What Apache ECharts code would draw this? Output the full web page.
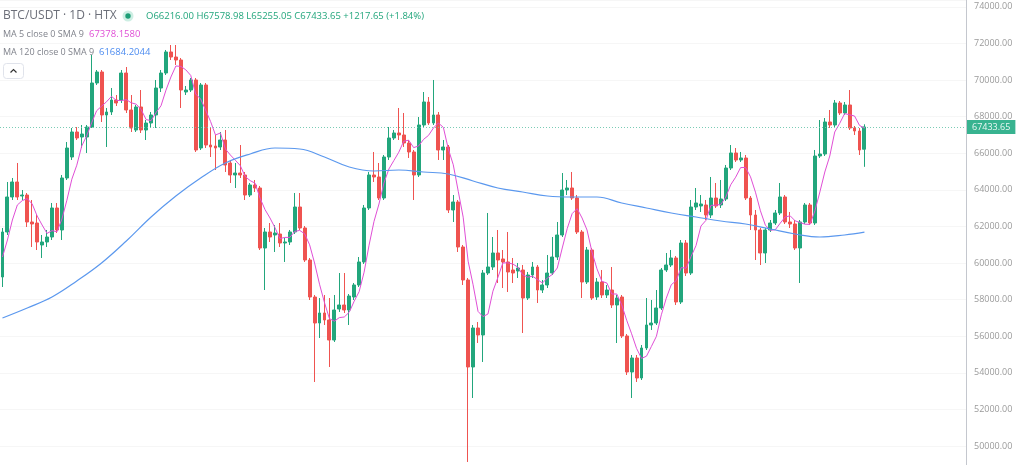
<!DOCTYPE html>
<html>
<head>
<meta charset="utf-8">
<script src="https://cdn.jsdelivr.net/npm/echarts@6/dist/echarts.min.js"></script>
<style>
  html, body { margin: 0; padding: 0; background: #ffffff; }
  #chart { width: 1024px; height: 465px; }
</style>
</head>
<body>
<div id="chart"></div>
<script>
// ---- data (BTC/USDT daily, HTX) ----
const opens = [
59235,61694,63606,64426,63661,63715,62240,62185,60983,61147,
61420,63005,61803,64644,65791,67158,66884,66884,67431,69835,
70436,68087,68251,68906,68906,70381,68360,67267,68524,67267,
67649,68087,69562,70381,71529,71255,71092,69343,69452,69999,
66283,69726,66447,66392,66338,66720,65464,64808,64917,64808,
63715,64262,64098,60819,61694,61530,61584,61092,61147,61694,
63059,61912,60164,58141,56721,57268,56885,55792,57486,57705,
57432,58141,58798,60055,63005,64808,64699,63551,65791,66830,
67103,66994,66556,66065,64808,67540,68797,67649,68087,66174,
66338,62896,63333,60874,59071,54317,56448,56066,59453,59781,
60546,60219,60055,59617,59562,59617,58087,59344,59781,58524,
58798,59453,60327,61530,63988,64098,63551,61694,58962,60710,
58141,58962,58251,58524,57705,58141,56011,54044,54809,53716,
55355,56612,56721,57541,59617,59891,60273,57869,61092,59453,
63059,63114,63169,62622,63551,63169,63497,65190,66010,65628,
65737,63551,62622,61803,60546,61803,62185,62732,63606,62240,
62131,60819,62240,63169,62185,65846,65955,67704,67540,68742,
68196,68633,67376,67212,66216];
const closes = [
61694,63606,64426,63606,63715,62240,62131,61147,61147,61420,
63005,61803,64644,66283,67158,66830,67048,67431,69835,70436,
68087,68251,68906,68742,70381,68360,67376,68524,67267,67649,
68087,69562,70381,71529,71255,71092,69452,69452,69999,66174,
69726,66447,66338,66283,66720,65355,64808,64917,64808,63715,
64262,64098,60819,61694,61420,61639,61092,61147,61694,63059,
61912,60164,58141,56721,57268,56885,55792,57432,57705,57432,
58196,58798,60055,63005,64808,64699,63551,65791,66830,67103,
66994,66556,66065,64808,67540,68797,67649,68087,66174,66338,
62896,63333,60874,59071,54317,56448,56066,59453,59781,60546,
60164,60055,59508,59453,59726,58087,59344,59781,58524,58798,
59453,60327,61530,63988,64098,63551,61694,58962,60710,58087,
58962,58251,58524,57705,58087,56011,54044,54809,53716,55355,
56612,56721,57541,59617,59891,60273,57869,61092,59453,63059,
63278,63223,62622,63551,63114,63497,65190,66010,65628,65737,
63551,62622,61803,60546,61803,62185,62732,63606,62240,62131,
60819,62240,63169,62185,65846,65955,67704,67540,68742,68196,
68633,67376,67212,66174,67433.65];
const lows = [
58688,61530,63442,63442,63442,61967,60874,60710,60273,60874,
61256,61639,61256,64535,65628,66720,66283,66010,67376,69726,
67704,66338,68087,68578,68742,68196,67158,67158,67103,66720,
67376,67376,69343,70272,71092,70819,68469,69179,69343,66065,
66174,66283,65791,65081,66174,64972,64371,64098,64644,63442,
63606,63879,60710,58524,61147,60601,60874,60055,60983,61584,
61803,60055,57978,53498,55902,56612,54317,55683,57323,57268,
56612,57978,58688,59945,62896,64426,63442,63442,65628,66720,
66720,66338,65737,63442,64699,67431,67540,67540,65628,65628,
62732,62240,60601,58798,49127,52623,55628,54591,59344,59617,
58907,58633,58415,58907,59180,56175,57978,59180,57814,58360,
58633,59344,60164,61420,63715,63442,61584,58087,58852,57978,
57978,58087,58087,57541,55628,55902,53880,52623,53498,53607,
55246,56339,56612,57432,59508,59781,57705,57759,59289,59344,
62896,62787,62349,62458,63005,63005,63387,65081,65519,65519,
63442,61803,60164,59891,60000,61694,62076,62622,62131,61912,
60710,58907,62131,62076,62076,65737,65846,67376,67431,68087,
68087,67267,66994,65901,65255.05];
const highs = [
61912,64426,64644,65464,63988,63824,63442,62622,61530,61803,
63278,63278,64808,66611,67376,67431,67540,67540,71365,70545,
70545,68469,69562,69179,70545,70709,69179,68633,69452,67813,
68251,69999,70545,71638,71911,71911,71201,69671,70108,70108,
69835,69835,67431,66994,67158,67267,65628,65464,66447,64972,
64371,64535,64207,61912,62185,62076,62185,61366,61803,63824,
63824,62021,60273,58251,58087,58251,58087,58251,59453,59453,
58305,58907,60327,63169,64972,66065,65464,65901,67431,67267,
68469,68196,66720,66174,67977,69343,69069,69999,68251,66720,
66447,63715,63442,60983,59180,56612,56776,59617,62732,61420,
61803,60710,61694,60273,60000,59891,59508,60055,59891,59071,
60437,61420,62240,64917,64535,64972,63715,61803,60874,60819,
59180,59617,58798,59781,58251,58251,56120,54973,54973,55519,
58087,57978,58524,59726,60546,60710,60382,61256,61256,63442,
64098,63715,63442,64699,64371,64535,65355,66447,66283,66065,
65901,63661,62896,61912,61912,62349,62896,64371,63715,62787,
62349,62349,63278,63278,66174,67813,67922,68360,68906,68851,
68797,69452,67485,67376,67578.98];

// MA 120 at these candle indexes
const ma120Index = [0,5,10,15,20,25,30,35,40,45,50,55,60,65,70,75,80,85,90,95,100,105,110,115,120,125,130,135,140,145,150,155,160,165,170,174];
const ma120Values = [56995,57541,58141,59016,60000,61202,62513,63661,64644,65464,65955,66283,66228,65791,65245,65027,65081,64972,64863,64480,64098,63879,63661,63606,63606,63278,63005,62732,62513,62294,62131,61857,61584,61420,61530,61684.2];
// MA 5 values for the first four candles (earlier closes are off-screen)
const ma5Lead = [60327,61256,62349,63169];

// visible price window of the reference (top edge .. bottom edge) and tick count
const yRange = { min: 48962, max: 74370, splitNumber: 13 };
const SLOTS = 195; // visible bar slots (candles + empty right margin)
const categories = Array.from({ length: SLOTS }, (_, i) => 'D' + (i + 1));

const titleText = 'BTC/USDT · 1D · HTX';
const ohlcText = 'O66216.00 H67578.98 L65255.05 C67433.65 +1217.65 (+1.84%)';
const ma5Label = 'MA 5 close 0 SMA 9', ma5Value = '67378.1580';
const ma120Label = 'MA 120 close 0 SMA 9', ma120Value = '61684.2044';

// ---- build ----
const UP = '#22a67c', DOWN = '#ef5350', MA5C = '#e04fd6', MA120C = '#5b98ee';
const FONT = '"Open Sans", Roboto, sans-serif';

const candleData = opens.map((o, i) => [o, closes[i], lows[i], highs[i]]);
const ma5 = closes.map((c, i) => {
  if (i < 4) return ma5Lead[i];
  let s = 0; for (let k = i - 4; k <= i; k++) s += closes[k];
  return +(s / 5).toFixed(2);
});
const ma120 = ma120Index.map((idx, k) => [idx, ma120Values[k]]);
const lastClose = closes[closes.length - 1];

const chart = echarts.init(document.getElementById('chart'), null, { renderer: 'canvas' });
chart.setOption({
  animation: false,
  backgroundColor: '#ffffff',
  grid: { left: 0, right: 58, top: 0, bottom: 0 },
  xAxis: {
    type: 'category', data: categories, boundaryGap: true,
    axisLine: { show: false }, axisTick: { show: false }, axisLabel: { show: false },
    splitLine: { show: false }
  },
  yAxis: {
    type: 'value', position: 'right', min: yRange.min, max: yRange.max, splitNumber: yRange.splitNumber,
    axisLine: { show: true, lineStyle: { color: '#c4c7ce', width: 1 } },
    axisTick: { show: false },
    axisLabel: { color: '#9a9a9a', fontSize: 9, margin: 8, fontFamily: FONT, showMinLabel: false, showMaxLabel: false,
      formatter: v => (v % 2000 === 0 ? v.toFixed(2) : '') },
    splitLine: { show: true, lineStyle: { color: '#f6f6f6', width: 1 } }
  },
  series: [
    {
      type: 'candlestick', data: candleData, barWidth: 3.4,
      itemStyle: { color: UP, color0: DOWN, borderColor: UP, borderColor0: DOWN, borderWidth: 1 },
      markLine: {
        silent: true, symbol: ['none', 'none'], animation: false,
        data: [{ yAxis: lastClose }],
        lineStyle: { color: '#6cc7ad', type: [1, 2], width: 1, opacity: 0.9 },
        label: {
          show: true, position: 'end', distance: 1, formatter: lastClose.toFixed(2),
          color: '#ffffff', backgroundColor: '#22ab84', padding: [3, 5, 2, 5],
          fontSize: 9, fontFamily: FONT
        }
      }
    },
    {
      type: 'line', data: ma5, showSymbol: false, smooth: false,
      lineStyle: { color: MA5C, width: 1 }, itemStyle: { color: MA5C }, z: 3
    },
    {
      type: 'line', data: ma120, showSymbol: false, smooth: 0.4,
      lineStyle: { color: MA120C, width: 1.2 }, itemStyle: { color: MA120C }, z: 3
    }
  ],
  graphic: [
    { type: 'text', x: 3, y: 16, style: { text: titleText, fill: '#6b6e78', font: '12px ' + FONT, verticalAlign: 'middle' } },
    { type: 'circle', shape: { cx: 128, cy: 16, r: 5.5 }, style: { fill: '#cdeee3' } },
    { type: 'circle', shape: { cx: 128, cy: 16, r: 2.7 }, style: { fill: '#1f9e77' } },
    { type: 'text', x: 146, y: 16, style: { text: ohlcText, fill: '#22a67c', font: '9.5px ' + FONT, verticalAlign: 'middle' } },
    { type: 'text', x: 3, y: 34, style: { text: ma5Label, fill: '#80838c', font: '9px ' + FONT, verticalAlign: 'middle' } },
    { type: 'text', x: 89, y: 34, style: { text: ma5Value, fill: MA5C, font: '9.5px ' + FONT, verticalAlign: 'middle' } },
    { type: 'text', x: 3, y: 52, style: { text: ma120Label, fill: '#80838c', font: '9px ' + FONT, verticalAlign: 'middle' } },
    { type: 'text', x: 99, y: 52, style: { text: ma120Value, fill: '#4d8cf0', font: '9.5px ' + FONT, verticalAlign: 'middle' } },
    { type: 'rect', shape: { x: 3.5, y: 63.5, width: 20, height: 15, r: 3 }, style: { fill: '#ffffff', stroke: '#e0e3eb', lineWidth: 1 } },
    { type: 'polyline', shape: { points: [[10.5, 72.5], [13.5, 69.5], [16.5, 72.5]] }, style: { stroke: '#333333', lineWidth: 1.2, fill: null } }
  ]
});
</script>
</body>
</html>
